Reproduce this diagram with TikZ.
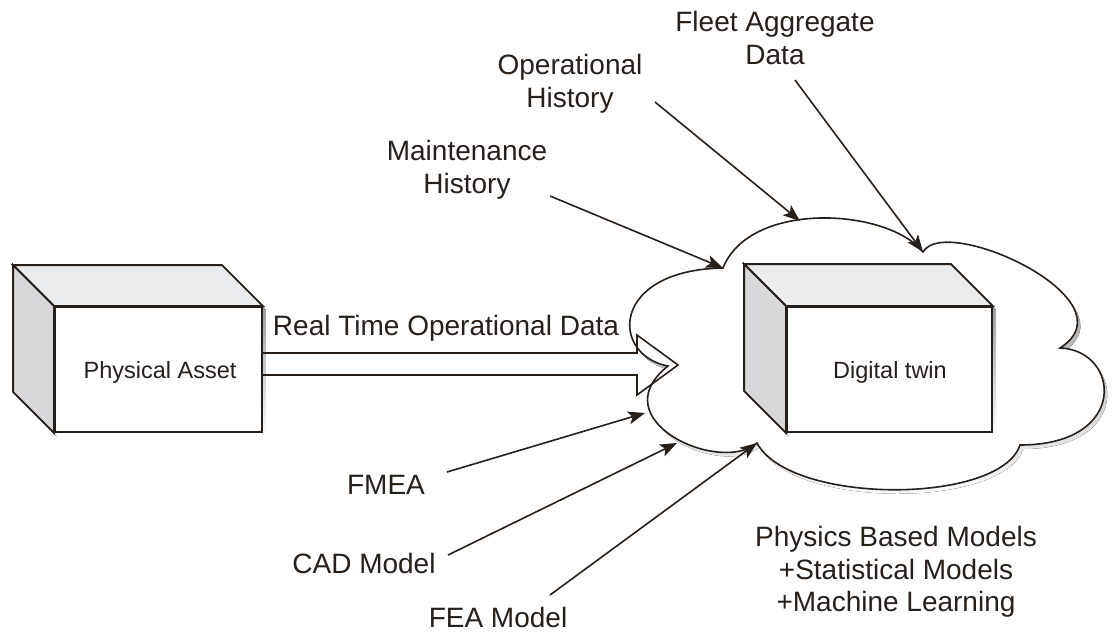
\documentclass[tikz,border=0pt]{standalone}
\usepackage{fontspec}
\setmainfont{Liberation Sans}
\usetikzlibrary{arrows.meta,calc}
\definecolor{ink}{RGB}{38,31,26}
\definecolor{topface}{RGB}{234,236,237}
\definecolor{sideface}{RGB}{216,216,218}
\definecolor{shade}{RGB}{160,160,160}

% outline of the cloud around the twin, through its cusps
\newcommand\cloudoutline{(cA) .. controls (750,200) and (888,208) .. (cB)
  .. controls (945,213) and (1135,300) .. (cC)
  .. controls (1120,350) and (1130,445) .. (cD)
  .. controls (1000,505) and (790,505) .. (cE)
  .. controls (720,475) and (600,420) .. (cF)
  .. controls (610,355) and (610,270) .. (cA) -- cycle}

% a 3-D box built on a front-face node #1 with depth #2
\newcommand\boxsides[2]{%
  \fill[shade, transform canvas={xshift=3pt,yshift=-4pt}]
    ($(#1.north west)+(-#2,-#2)$) -- ($(#1.north east)+(-#2,-#2)$) --
    (#1.north east) -- (#1.south east) -- (#1.south west) --
    ($(#1.south west)+(-#2,-#2)$) -- cycle;
  \draw[face, fill=topface] (#1.north west) -- ++(-#2,-#2) --
    ($(#1.north east)+(-#2,-#2)$) -- (#1.north east) -- cycle;
  \draw[face, fill=sideface] (#1.north west) -- ++(-#2,-#2) --
    ($(#1.south west)+(-#2,-#2)$) -- (#1.south west) -- cycle;}

\begin{document}
\begin{tikzpicture}[x=1pt,y=-1pt,
  lbl/.style={inner sep=0pt, text=ink, align=center,
    font=\fontsize{28}{32.5}\selectfont},
  boxlbl/.style={inner sep=0pt, text=ink, font=\fontsize{23.5}{28}\selectfont},
  front/.style={draw=ink, line width=1.8pt, fill=white,
    minimum width=205pt, minimum height=125pt, inner sep=0pt},
  face/.style={draw=ink, line width=1.8pt, line join=miter},
  feed/.style={draw=ink, line width=1.6pt,
    -{Stealth[length=17pt,width=13pt,inset=4pt]}},
]
\useasboundingbox (0,0) rectangle (1114,633);

% cusps of the cloud
\coordinate (cA) at (723,268);
\coordinate (cB) at (923,252);
\coordinate (cC) at (1060,348);
\coordinate (cD) at (1020,445);
\coordinate (cE) at (757,443);
\coordinate (cF) at (668,366);
\coordinate (cTop) at (800,221);
\coordinate (cLeft) at (645,413);
\coordinate (cLow) at (677,443);

% cloud with its shadow
\fill[shade, transform canvas={xshift=3pt,yshift=-4pt}] \cloudoutline;
\draw[ink, line width=1.6pt, fill=white] \cloudoutline;

% physical asset
\node[front, minimum width=207pt] (asset) at (158.5,369.5) {};
\boxsides{asset}{41}
\node[front, minimum width=207pt] at (asset) {};
\node[boxlbl] at (160,372) {Physical Asset};

% digital twin
\node[front] (twin) at (889.5,369.5) {};
\boxsides{twin}{42}
\node[front] at (twin) {};
\node[boxlbl] at (890,372) {Digital twin};

% real time data block arrow
\coordinate (sTop) at (0,353);
\coordinate (sBot) at (0,375);
\coordinate (rtTip) at (678,365);
\draw[ink, line width=1.6pt, line join=miter]
  (asset.east |- sTop) -- (637,353) -- (637,335) -- (rtTip) --
  (637,395) -- (637,375) -- (asset.east |- sBot);
\node[lbl] (rt) at (446,328) {Real Time Operational Data};

% source labels
\node[lbl] (fleet) at (775,38) {Fleet Aggregate\\Data};
\node[lbl] (ophist) at (570,84) {Operational\\History};
\node[lbl] (mhist) at (467,170) {Maintenance\\History};
\node[lbl] (fmea) at (386,485) {FMEA};
\node[lbl] (cad) at (364,563) {CAD Model};
\node[lbl] (fea) at (498,617) {FEA Model};
\node[lbl] (models) at (896,572) {Physics Based Models\\+Statistical Models\\+Machine Learning};

% arrow tails next to the labels
\coordinate (tFleet) at (795,80);
\coordinate (tOp) at (655,102);
\coordinate (tMh) at (550,196);
\coordinate (tFmea) at (447,472);
\coordinate (tCad) at (448,555);
\coordinate (tFea) at (550,595);

\draw[feed] (tFleet) -- (cB);
\draw[feed] (tOp) -- (cTop);
\draw[feed] (tMh) -- (cA);
\draw[feed] (tFmea) -- (cLeft);
\draw[feed] (tCad) -- (cLow);
\draw[feed] (tFea) -- (cE);
\end{tikzpicture}
\end{document}
